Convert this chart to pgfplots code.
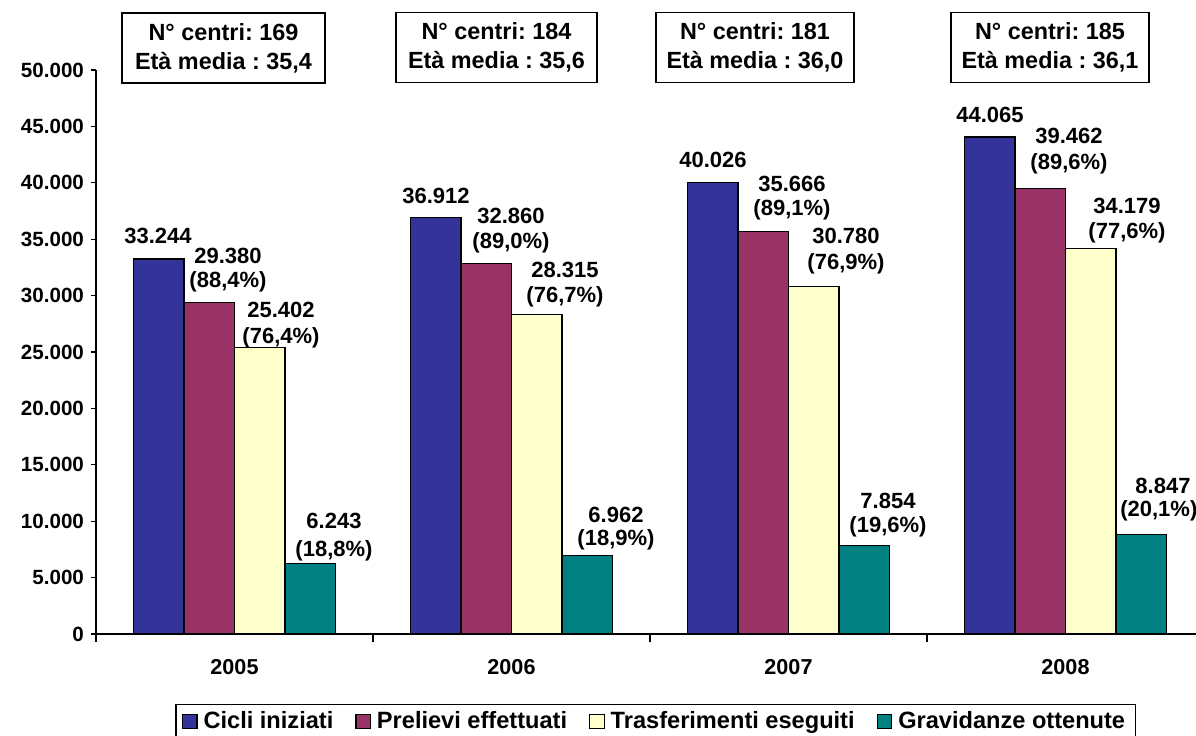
\documentclass[border=0pt]{standalone}
\usepackage{fontspec}
\setmainfont{Liberation Sans}
\usepackage{pgfplots}
\usepackage{pgfplotstable}
\pgfplotsset{compat=1.18}
\frenchspacing
\definecolor{cblue}{HTML}{333399}
\definecolor{cpurple}{HTML}{993366}
\definecolor{cyellow}{HTML}{FFFFCC}
\definecolor{cteal}{HTML}{008080}
\pgfplotsset{sqleg/.style={legend image code/.code={\draw[##1,line width=0.6pt] (0pt,-3.6pt) rectangle (7.2pt,3.6pt);}}}

\pgfplotstableread{
x y
0 33244
1 36912
2 40026
3 44065
}\cicli
\pgfplotstableread{
x y
0 29380
1 32860
2 35666
3 39462
}\prelievi
\pgfplotstableread{
x y
0 25402
1 28315
2 30780
3 34179
}\trasf
\pgfplotstableread{
x y
0 6243
1 6962
2 7854
3 8847
}\grav
% label positions (x, y of the centre of each text line) and texts
\pgfplotstableread{
x y t
-0.2762 35284 33.244
-0.0235 33510 29.380
-0.0235 31206 (88,4\%)
0.1679 28723 25.402
0.1679 26241 (76,4\%)
0.3592 10018 6.243
0.3592 7358 (18,8\%)
0.7274 38830 36.912
0.9982 37057 32.860
0.9982 34663 (89,0\%)
1.1931 32269 28.315
1.1931 29876 (76,7\%)
1.3773 10550 6.962
1.3773 8333 (18,9\%)
1.7274 42021 40.026
2.0126 39893 35.666
2.0126 37588 (89,1\%)
2.2076 35284 30.780
2.2076 32801 (76,9\%)
2.3592 11791 7.854
2.3592 9486 (19,6\%)
2.7274 46010 44.065
3.0126 44149 39.462
3.0126 41666 (89,6\%)
3.2220 37943 34.179
3.2220 35549 (77,6\%)
3.3520 13120 8.847
3.3370 10904 (20,1\%)
}\labels

\begin{document}
\begin{tikzpicture}
\begin{axis}[name=ax,
  scale only axis, width=554pt, height=282pt,
  xmin=-0.5, xmax=3.5, ymin=0, ymax=50000,
  axis x line*=bottom, axis y line*=left,
  axis line style={-, black, line width=0.6pt},
  xtick={0,1,2,3}, xticklabels={2005,2006,2007,2008},
  minor xtick={-0.5,0.5,1.5,2.5,3.5},
  major x tick style={draw=none},
  minor tick length=4pt,
  ytick={0,5000,...,50000},
  scaled y ticks=false,
  major tick length=2.5pt,
  tick align=outside,
  tick style={black, line width=0.6pt},
  /pgf/number format/1000 sep={.},
  /pgf/number format/assume math mode=true,
  yticklabel style={font=\fontsize{10.3}{12}\selectfont\bfseries},
  xticklabel style={font=\fontsize{10.8}{12}\selectfont\bfseries, anchor=center, yshift=-14pt},
  clip=false,
  legend columns=4,
  legend style={at={(0.505,0)}, anchor=north, yshift=-35pt, draw=black, line width=0.6pt,
    font=\fontsize{11.8}{13}\selectfont\bfseries, inner xsep=3pt, inner ysep=1.5pt,
    /tikz/every even column/.append style={column sep=9pt},
    /tikz/every odd column/.append style={column sep=1pt}},
]
\addplot[ybar, bar width=25.25pt, bar shift=-37.875pt, fill=cblue, draw=black, line width=0.6pt, sqleg] table {\cicli};
\addlegendentry{Cicli iniziati}
\addplot[ybar, bar width=25.25pt, bar shift=-12.625pt, fill=cpurple, draw=black, line width=0.6pt, sqleg] table {\prelievi};
\addlegendentry{Prelievi effettuati}
\addplot[ybar, bar width=25.25pt, bar shift=12.625pt, fill=cyellow, draw=black, line width=0.6pt, sqleg] table {\trasf};
\addlegendentry{Trasferimenti eseguiti}
\addplot[ybar, bar width=25.25pt, bar shift=37.875pt, fill=cteal, draw=black, line width=0.6pt, sqleg] table {\grav};
\addlegendentry{Gravidanze ottenute}
\addplot[draw=none, mark=none, forget plot, nodes near coords, point meta=explicit symbolic,
  every node near coord/.append style={anchor=center, inner sep=0pt, font=\fontsize{11}{13}\selectfont\bfseries}]
  table[meta=t] {\labels};
\tikzset{cbox/.style={draw=black, fill=white, line width=0.6pt, minimum height=35pt, inner sep=0pt, align=center, font=\fontsize{11.7}{14.5}\selectfont\bfseries}}
\node[cbox, minimum width=101.5pt] at (axis cs:-0.0397,51950) {N° centri: 169\\Età media : 35,4};
\node[cbox, minimum width=100.5pt] at (axis cs:0.9458,52000) {N° centri: 184\\Età media : 35,6};
\node[cbox, minimum width=99pt] at (axis cs:1.879,52000) {N° centri: 181\\Età media : 36,0};
\node[cbox, minimum width=99pt] at (axis cs:2.944,52000) {N° centri: 185\\Età media : 36,1};
\end{axis}
\pgfresetboundingbox
\path[use as bounding box] ([shift={(-48pt,-50.5pt)}]ax.south west) rectangle ([shift={(550pt,317pt)}]ax.south west);
\end{tikzpicture}
\end{document}
